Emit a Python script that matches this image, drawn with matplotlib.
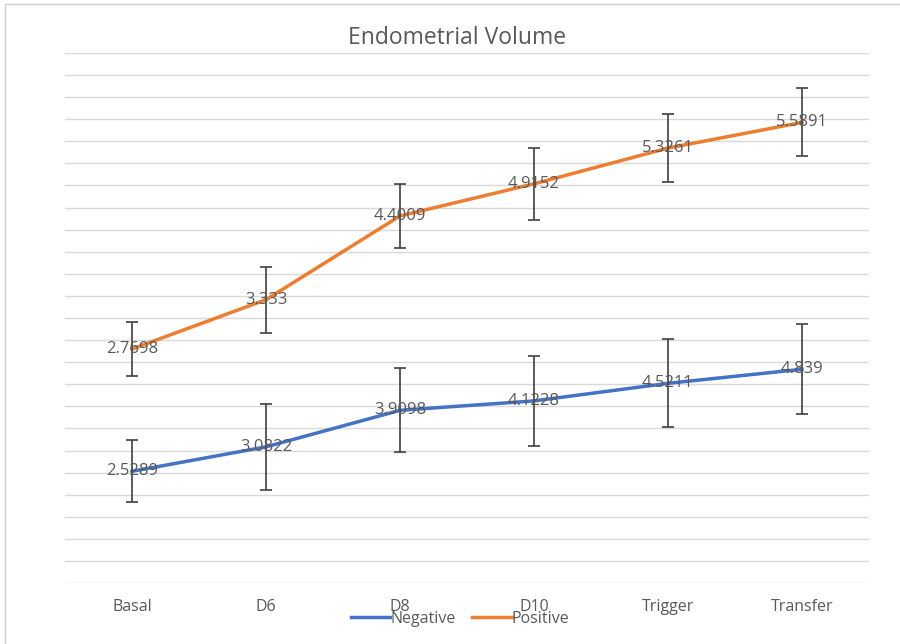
import numpy as np
import matplotlib
matplotlib.use("Agg")
import matplotlib.pyplot as plt
from matplotlib.patches import Rectangle

categories = ["Basal", "D6", "D8", "D10", "Trigger", "Transfer"]
negative = [2.5289, 3.0822, 3.9098, 4.1228, 4.5211, 4.839]
positive = [2.7698, 3.333, 4.4009, 4.9152, 5.3261, 5.5891]
negative_err = [0.70, 0.98, 0.95, 1.02, 1.00, 1.02]
positive_err = [0.61, 0.75, 0.72, 0.81, 0.77, 0.77]
neg_labels = ["2.5289", "3.0822", "3.9098", "4.1228", "4.5211", "4.839"]
pos_labels = ["2.7698", "3.333", "4.4009", "4.9152", "5.3261", "5.5891"]

plt.rcParams["font.family"] = ["Open Sans", "DejaVu Sans"]

blue = "#4472C4"
orange = "#ED7D31"
txt = "#595959"

fig = plt.figure(figsize=(9, 6.44), dpi=100)
fig.patches.append(Rectangle((5/900, -0.01), 1.0, 1 - 4/644 + 0.01, transform=fig.transFigure,
                             fill=False, edgecolor="#D0D0D0", linewidth=1.0))
ax = fig.add_axes([65/900, 1 - 583/644, (869 - 65)/900, (583 - 53)/644])

x = np.arange(len(categories))
neg = np.array(negative)
pos_stack = neg + np.array(positive)

ax.set_xlim(-0.5, len(categories) - 0.5)
ax.set_ylim(0, 12)
ax.set_yticks(np.arange(0, 12.01, 0.5))
ax.yaxis.grid(True, color="#D9D9D9", linewidth=1.0)
ax.set_axisbelow(True)
ax.tick_params(axis="y", left=False, labelleft=False)
ax.tick_params(axis="x", bottom=False, pad=8, labelsize=11.5, labelcolor=txt)
ax.set_xticks(x)
ax.set_xticklabels(categories)
for s in ax.spines.values():
    s.set_visible(False)

l1, = ax.plot(x, neg, color=blue, linewidth=2.5, label="Negative", zorder=3)
l2, = ax.plot(x, pos_stack, color=orange, linewidth=2.5, label="Positive", zorder=3)
ax.errorbar(x, neg, yerr=negative_err, fmt="none", ecolor="#404040", elinewidth=1.2,
            capsize=4, capthick=1.2, zorder=4)
ax.errorbar(x, pos_stack, yerr=positive_err, fmt="none", ecolor="#404040", elinewidth=1.2,
            capsize=4, capthick=1.2, zorder=4)

for xi, yi, lab in zip(x, neg, neg_labels):
    ax.text(xi, yi, lab, ha="center", va="center", fontsize=12, color=txt, zorder=5)
for xi, yi, lab in zip(x, pos_stack, pos_labels):
    ax.text(xi, yi, lab, ha="center", va="center", fontsize=12, color=txt, zorder=5)

fig.text(457/900, 1 - 38/644, "Endometrial Volume", ha="center", va="center",
         fontsize=16.5, color=txt)

fig.legend(handles=[l1, l2], loc="center", bbox_to_anchor=(460/900, 1 - 619/644),
           ncol=2, frameon=False, fontsize=11.5, labelcolor=txt, handlelength=2.5,
           handletextpad=0.0, columnspacing=1.0)

fig.savefig("out.png", dpi=100)
